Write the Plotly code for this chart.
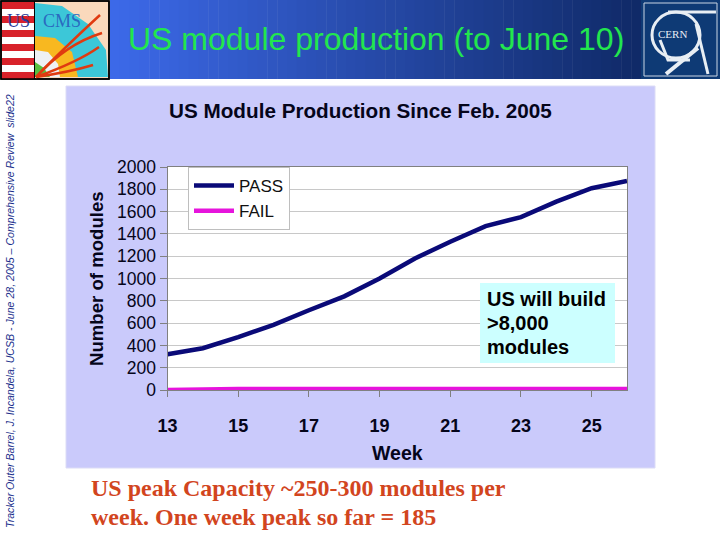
import plotly.graph_objects as go

weeks = list(range(13, 27))
pass_vals = [320, 375, 475, 585, 715, 840, 1000, 1180, 1330, 1470, 1550, 1690, 1810, 1875]
fail_vals = [0, 10, 10, 10, 10, 10, 10, 10, 10, 10, 10, 10, 10, 10]
y_ticks = list(range(0, 2001, 200))
x_ticks = list(range(13, 26, 2))

W, H = 720, 540
PX = lambda v: v / W
PY = lambda v: 1 - v / H


def rect(x0, y0, x1, y1, fill, line=None, lw=1):
    return dict(type="rect", xref="paper", yref="paper", x0=PX(x0), x1=PX(x1), y0=PY(y0), y1=PY(y1),
                fillcolor=fill, line=dict(color=line, width=lw) if line else dict(width=0), layer="below")


def path(points, color, width=0, fill=None, closed=False):
    d = "M " + " L ".join(f"{PX(x):.4f},{PY(y):.4f}" for x, y in points) + (" Z" if closed else "")
    return dict(type="path", xref="paper", yref="paper", path=d, layer="below",
                fillcolor=fill if fill else "rgba(0,0,0,0)",
                line=dict(color=color, width=width) if width else dict(width=0))


def qpath(d_pts, color, width):
    (x0, y0), (cx, cy), (x1, y1) = d_pts
    d = f"M {PX(x0):.4f},{PY(y0):.4f} Q {PX(cx):.4f},{PY(cy):.4f} {PX(x1):.4f},{PY(y1):.4f}"
    return dict(type="path", xref="paper", yref="paper", path=d, layer="below",
                fillcolor="rgba(0,0,0,0)", line=dict(color=color, width=width))


shapes = []
# header gradient
c0, c1 = (60, 105, 232), (16, 42, 104)
n = 54
for i in range(n):
    t = i / (n - 1)
    col = "rgb(%d,%d,%d)" % tuple(round(a + (b - a) * t) for a, b in zip(c0, c1))
    x0 = 110 + (641 - 110) * i / n
    x1 = 110 + (641 - 110) * (i + 1) / n + 0.5
    shapes.append(rect(x0, 0, x1, 79, col))
# chart panel and white plot area
shapes.append(rect(66, 86, 655, 468, "#CACAFB", "#DCDCF6", 1))
shapes.append(rect(167.5, 167, 627, 390, "#ffffff"))
# left logo
shapes.append(rect(1, 1, 109, 79, "#FAD9BC", "#000000", 1.5))
shapes.append(rect(2, 2, 34, 78, "#ffffff"))
for y in [2, 16, 30, 44, 58, 72]:
    shapes.append(rect(2, y, 34, y + 7, "#D8222A"))
shapes.append(path([(35, 3), (62, 6), (88, 24), (106, 50), (108, 77), (35, 77)], "#000", 0, "#3CC7D8", True))
shapes.append(path([(35, 36), (55, 38), (72, 52), (78, 77), (35, 77)], "#000", 0, "#F8B820", True))
shapes.append(path([(35, 50), (48, 52), (58, 64), (60, 77), (35, 77)], "#000", 0, "#EEF0F4", True))
shapes.append(path([(35, 62), (44, 68), (50, 77), (35, 77)], "#000", 0, "#58C040", True))
shapes.append(rect(1, 1, 109, 79, "rgba(0,0,0,0)", "#000000", 1.5))
shapes.append(path([(34.5, 1), (34.5, 79)], "#000000", 1))
for pts in [
    [(36, 77), (62, 50), (100, 15)],
    [(36, 77), (66, 44), (102, 33)],
    [(36, 77), (78, 62), (99, 47)],
    [(36, 77), (70, 72), (93, 65)],
]:
    shapes.append(qpath(pts, "#E03A10", 2.5))
# CERN logo
shapes.append(rect(641, 0, 720, 79, "#0E3A75"))
shapes.append(rect(644, 3, 717, 76, "rgba(0,0,0,0)", "#C8D4E4", 1))
shapes.append(dict(type="circle", xref="paper", yref="paper", x0=PX(652), x1=PX(700), y0=PY(58), y1=PY(12),
                   line=dict(color="#E8EEF4", width=3), layer="below"))
shapes.append(path([(668, 12), (716, 12)], "#E8EEF4", 3))
shapes.append(path([(666, 74), (698, 48)], "#E8EEF4", 4))
shapes.append(path([(708, 74), (696, 24)], "#E8EEF4", 3))
shapes.append(path([(660, 40), (668, 60), (690, 60)], "#E8EEF4", 3))
# data-note box
note_box = rect(480, 283, 615, 363, "#CCFFFF")
note_box["layer"] = "above"
shapes.append(note_box)


def note(text, x, y, size, color="#000", bold=False, family="Liberation Sans", xanchor="left", angle=0, yanchor="middle"):
    return dict(text=f"<b>{text}</b>" if bold else text, xref="paper", yref="paper", x=PX(x), y=PY(y),
                showarrow=False, xanchor=xanchor, yanchor=yanchor, textangle=angle,
                font=dict(size=size, color=color, family=family))


annotations = [
    note("US module production (to June 10)", 375.5, 39, 32, "#22E64E", xanchor="center"),
    note("US Module Production Since Feb. 2005", 360, 110, 20.7, "#05051A", True, xanchor="center"),
    note("Number of modules", 96, 279, 18.6, "#05051A", True, xanchor="center", angle=-90),
    note("Week", 397.5, 453, 19.5, "#05051A", True, xanchor="center"),
    note("US will build", 485, 298.5, 20, "#000", True),
    note(">8,000", 485, 322.5, 20, "#000", True),
    note("modules", 485, 347, 20, "#000", True),
    note("US peak Capacity ~250-300 modules per", 89, 487.5, 24, "#D2451E", True, "Liberation Serif"),
    note("week. One week peak so far = 185", 89, 516.5, 24, "#D2451E", True, "Liberation Serif"),
    note("<i>Tracker Outer Barrel, J. Incandela, UCSB - June 28, 2005 – Comprehensive Review  slide22</i>",
         10, 311, 10.6, "#1A2F8C", xanchor="center", angle=-90),
    note("US", 18, 21, 18, "#2A3A9A", family="Liberation Serif", xanchor="center"),
    note("CMS", 62, 21, 18, "#2A6AC0", family="Liberation Serif", xanchor="center"),
    note("CERN", 672, 34, 11, "#E8EEF4", family="Liberation Serif", xanchor="center"),
]

fig = go.Figure()
fig.add_trace(go.Scatter(x=weeks, y=pass_vals, name="PASS", mode="lines", cliponaxis=False,
                         line=dict(color="#0A0A78", width=4.5)))
fig.add_trace(go.Scatter(x=weeks, y=fail_vals, name="FAIL", mode="lines", cliponaxis=False,
                         line=dict(color="#E614DC", width=4.5)))

fig.update_layout(
    width=W, height=H, autosize=False, margin=dict(l=0, r=0, t=0, b=0, autoexpand=False),
    paper_bgcolor="#ffffff", plot_bgcolor="#ffffff", shapes=shapes, annotations=annotations,
    font=dict(family="Liberation Sans", color="#05051A"),
    xaxis=dict(domain=[PX(167.5), PX(627)], range=[13, 26], tickvals=x_ticks, ticks="outside", ticklen=6,
               tickcolor="#808080", showgrid=False, showline=True, linecolor="#808080", zeroline=False,
               ticklabelstandoff=13, tickfont=dict(size=18, family="Liberation Sans", color="#05051A", weight="bold"),
               mirror=True),
    yaxis=dict(domain=[PY(390), PY(167)], range=[0, 2000], tickvals=y_ticks, ticks="outside", ticklen=7,
               tickcolor="#808080", gridcolor="#C8C8C8", gridwidth=1, showline=True, linecolor="#808080",
               zeroline=False, tickfont=dict(size=17.5, family="Liberation Sans", color="#05051A"), mirror=True),
    legend=dict(x=PX(188), y=PY(167), xanchor="left", yanchor="top", bgcolor="#ffffff", bordercolor="#BEBEBE",
                borderwidth=1, font=dict(size=17, color="#111111"), itemwidth=40),
    showlegend=True,
)
fig.write_html("out.html", config=dict(displayModeBar=False), post_script="document.body.style.margin='0';")
